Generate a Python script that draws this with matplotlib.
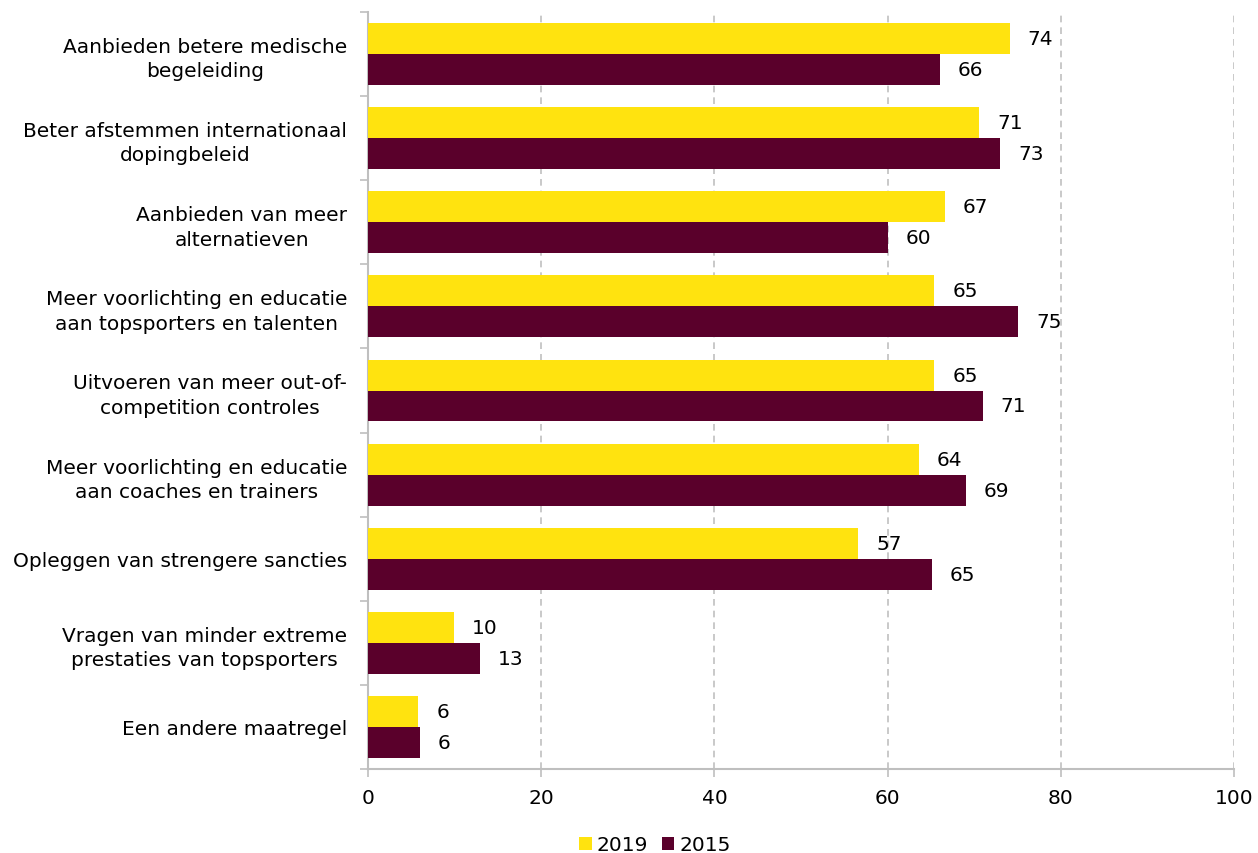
import matplotlib
matplotlib.use("Agg")
import matplotlib.pyplot as plt
import numpy as np
from matplotlib.ticker import FixedLocator

categories = [
    "Aanbieden betere medische\nbegeleiding",
    "Beter afstemmen internationaal\ndopingbeleid",
    "Aanbieden van meer\nalternatieven",
    "Meer voorlichting en educatie\naan topsporters en talenten",
    "Uitvoeren van meer out-of-\ncompetition controles",
    "Meer voorlichting en educatie\naan coaches en trainers",
    "Opleggen van strengere sancties",
    "Vragen van minder extreme\nprestaties van topsporters",
    "Een andere maatregel",
]
values_2019 = [74.1, 70.6, 66.6, 65.4, 65.4, 63.6, 56.6, 9.9, 5.8]
values_2015 = [66.0, 73.0, 60.0, 75.1, 71.0, 69.0, 65.1, 12.9, 6.0]
series_names = ["2019", "2015"]
colors = ["#FFE30F", "#5A002B"]

plt.rcParams['font.family'] = ['DejaVu Sans']
fs = 14.5

fig = plt.figure(figsize=(12.58, 8.54), dpi=100)
ax = fig.add_axes([368/1258, 1-770/854, (1234-368)/1258, (770-13)/854])

n = len(categories)
y = np.arange(n)
h = 0.368
b1 = ax.barh(y - h/2, values_2019, height=h, color=colors[0], label=series_names[0], zorder=3)
b2 = ax.barh(y + h/2, values_2015, height=h, color=colors[1], label=series_names[1], zorder=3)

for bars, vals in ((b1, values_2019), (b2, values_2015)):
    for rect, v in zip(bars, vals):
        ax.annotate(f"{v:.0f}", (rect.get_width(), rect.get_y() + rect.get_height()/2),
                    xytext=(18, 0), textcoords="offset pixels",
                    va="center", ha="left", fontsize=fs, color="#000000", zorder=4)

ax.set_xlim(0, 100)
ax.set_ylim(n - 0.5, -0.5)
ax.set_xticks([0, 20, 40, 60, 80, 100])
ax.tick_params(axis='x', labelsize=fs, length=6, color="#bfbfbf", width=1.2, pad=8)
ax.set_yticks(y)
ax.set_yticklabels(categories, fontsize=fs, ha="right", multialignment="center",
                   linespacing=1.35)
ax.yaxis.set_minor_locator(FixedLocator(np.arange(-0.5, n + 0.5, 1)))
ax.tick_params(axis='y', which='major', length=0, pad=15)
ax.tick_params(axis='y', which='minor', length=6, color="#bfbfbf", width=1.2)

for s in ("top", "right"):
    ax.spines[s].set_visible(False)
for s in ("left", "bottom"):
    ax.spines[s].set_color("#bfbfbf")
    ax.spines[s].set_linewidth(1.5)

ax.grid(axis='x', linestyle=(0, (4, 3)), color="#c0c0c0", linewidth=1.2, zorder=0)
ax.xaxis.get_gridlines()[0].set_visible(False)

leg = fig.legend(handles=[b1, b2], labels=series_names, loc="center",
                 bbox_to_anchor=(655/1258, 1-846/854), ncol=2, frameon=False,
                 fontsize=fs, handlelength=0.6, handleheight=0.6, handletextpad=0.25,
                 columnspacing=0.7)

fig.savefig("out.png", dpi=100)
